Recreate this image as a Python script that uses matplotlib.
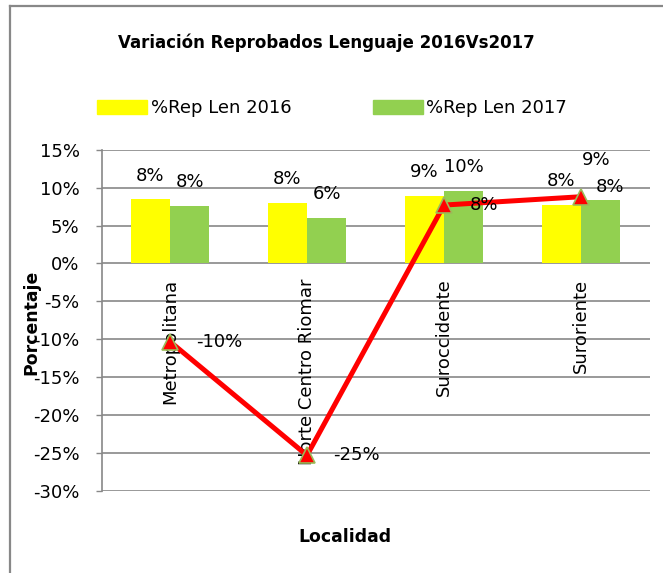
import matplotlib
matplotlib.use("Agg")
import matplotlib.pyplot as plt
from matplotlib.lines import Line2D
from matplotlib.patches import Patch

# data
localidades = ["Metropolitana", "Norte Centro Riomar", "Suroccidente", "Suroriente"]
rep_2016 = [0.0845, 0.080, 0.0893, 0.077]
rep_2017 = [0.0757, 0.0602, 0.0955, 0.084]
variacion = [-0.103, -0.253, 0.077, 0.088]
y_ticks = [0.15, 0.10, 0.05, 0.0, -0.05, -0.10, -0.15, -0.20, -0.25, -0.30]
y_tick_labels = ["15%", "10%", "5%", "0%", "-5%", "-10%", "-15%", "-20%", "-25%", "-30%"]

W, H = 663, 573
fig = plt.figure(figsize=(W / 100, H / 100), dpi=100)
plt.rcParams["font.family"] = ["DejaVu Sans"]

ax = fig.add_axes([101.5 / W, 1 - 491 / H, 548 / W, (491 - 149.7) / H])

grid_c = "#888888"
yellow = "#FFFF00"
green = "#92D050"

x = list(range(len(localidades)))
bw = 0.285
b1 = ax.bar([i - bw / 2 for i in x], rep_2016, width=bw, color=yellow, zorder=2)
b2 = ax.bar([i + bw / 2 for i in x], rep_2017, width=bw, color=green, zorder=2)
ax.plot(x, variacion, color="#FF0000", lw=3.6, marker="^", markersize=12,
        markerfacecolor="#FF0000", markeredgecolor="#9BBB59", markeredgewidth=1.2,
        zorder=4)

ax.set_xlim(-0.5, len(localidades) - 0.5)
ax.set_ylim(-0.30, 0.15)
ax.set_yticks(y_ticks)
ax.set_yticklabels(y_tick_labels, fontsize=13)
ax.set_xticks([])
ax.tick_params(axis="y", length=4.3, width=1, color=grid_c, pad=11.5)
ax.grid(axis="y", color=grid_c, lw=1.2, zorder=1)
ax.set_axisbelow(True)
for s in ["top", "right", "bottom"]:
    ax.spines[s].set_visible(False)
ax.spines["left"].set_color(grid_c)
ax.spines["left"].set_linewidth(1.2)

# category labels, rotated, hanging below the 0% line
for i, name in enumerate(localidades):
    ax.annotate(name, (i, 0), xytext=(0, -11), textcoords="offset points",
                rotation=90, ha="center", va="top", fontsize=13, zorder=3)

# bar labels (last green one nudged like in the original)
for i in x:
    ax.annotate(f"{round(rep_2016[i] * 100):.0f}%", (i - bw / 2, rep_2016[i]),
                xytext=(0, 13.5), textcoords="offset points",
                ha="center", va="baseline", fontsize=13, zorder=5)
    dx, dy = (7, 5.8) if i == 3 else (0, 13.5)
    ax.annotate(f"{round(rep_2017[i] * 100):.0f}%", (i + bw / 2, rep_2017[i]),
                xytext=(dx, dy), textcoords="offset points",
                ha="center", va="baseline", fontsize=13, zorder=5)

# line labels
for i in x:
    txt = f"{round(variacion[i] * 100):.0f}%"
    if i == 3:
        ax.annotate(txt, (i, variacion[i]), xytext=(11, 23), textcoords="offset points",
                    ha="center", va="baseline", fontsize=13, zorder=5)
    else:
        ax.annotate(txt, (i, variacion[i]), xytext=(18.5, 0), textcoords="offset points",
                    ha="left", va="center", fontsize=13, zorder=5)

fig.text(326.5 / W, 1 - 43 / H, "Variación Reprobados Lenguaje 2016Vs2017",
         ha="center", va="center", fontsize=12, fontweight="bold")
fig.text(31 / W, 1 - 322 / H, "Porcentaje", rotation=90,
         ha="center", va="center", fontsize=12.4, fontweight="bold")
fig.text(345 / W, 1 - 537 / H, "Localidad",
         ha="center", va="center", fontsize=12.4, fontweight="bold")

handles = [Patch(color=yellow, label="%Rep Len 2016"),
           Patch(color=green, label="%Rep Len 2017")]
fig.legend(handles=handles, loc="center left", bbox_to_anchor=(97 / W, 1 - 108 / H),
           ncol=2, frameon=False, fontsize=13, handlelength=2.77, handleheight=0.78,
           handletextpad=0.2, columnspacing=4.5, borderpad=0, borderaxespad=0)

# chart border (only top and left edges visible in the original crop)
fig.add_artist(Line2D([9.5 / W, 9.5 / W], [0, 1 - 5.5 / H], color=grid_c, lw=1.6,
                      transform=fig.transFigure))
fig.add_artist(Line2D([9.5 / W, 1], [1 - 5.5 / H, 1 - 5.5 / H], color=grid_c, lw=1.6,
                      transform=fig.transFigure))

fig.savefig("out.png", dpi=100)
